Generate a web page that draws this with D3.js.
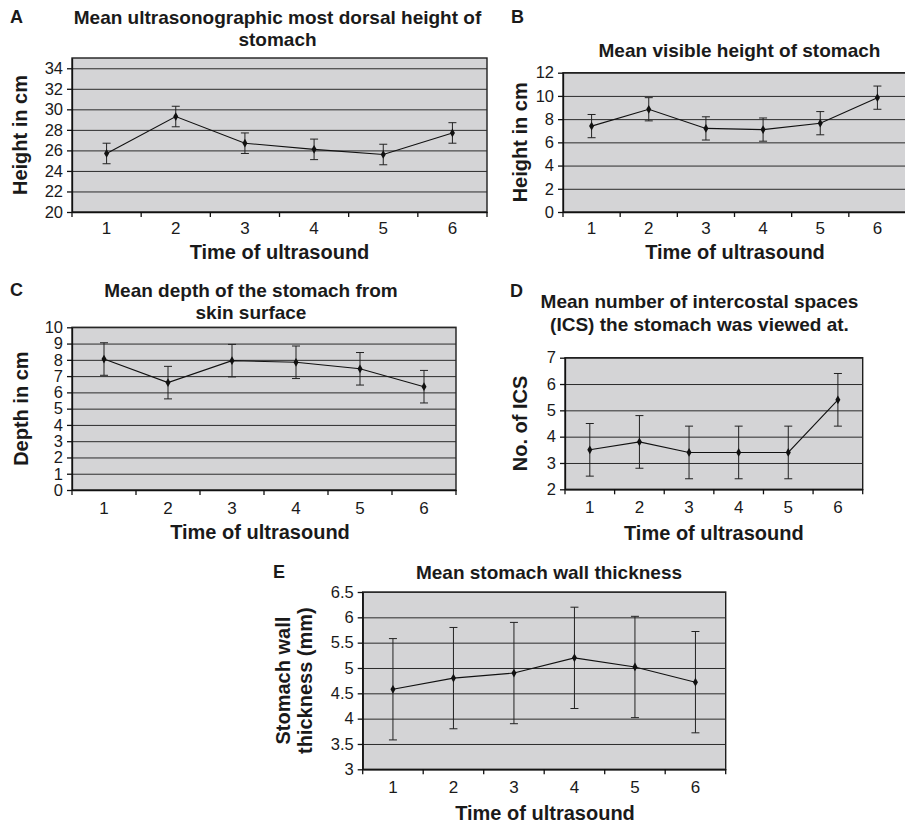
<!DOCTYPE html>
<meta charset="UTF-8">
<head>
<title>Stomach ultrasound</title>
<style>
body { margin: 0; background: #fff; }
svg { display: block; font-family: "Liberation Sans", Arial, sans-serif; }
.plotbg { fill: #d4d4d6; stroke: #1e1e1e; stroke-width: 1.4px; }
.grid line { stroke: #2b2b2b; stroke-width: 1px; }
.grid path { display: none; }
.axis path, .axis line { stroke: #111; stroke-width: 1.3px; }
.axis text { fill: #1a1a1a; font-family: "Liberation Sans", Arial, sans-serif; }
.yax text { font-size: 16.5px; }
.xax text { font-size: 17px; }
.err { stroke: #222; stroke-width: 1px; }
.series { fill: none; stroke: #111; stroke-width: 1.1px; }
.dot { fill: #111; }
.title { font-size: 19px; font-weight: bold; fill: #1a1a1a; }
.letter { font-size: 18px; font-weight: bold; fill: #1a1a1a; }
.axtitle { font-size: 20px; font-weight: bold; fill: #1a1a1a; }
</style>
</head>
<body>

<script src="https://d3js.org/d3.v7.min.js"></script>

<script>

// time of ultrasound (categories)
var times = ["1", "2", "3", "4", "5", "6"];

// A - most dorsal height
var dorsalMean = [25.7, 29.3, 26.7, 26.1, 25.6, 27.7];
var dorsalErr  = [1, 1, 1, 1, 1, 1];
var dorsalTicks = [20, 22, 24, 26, 28, 30, 32, 34];

// B - visible height
var visibleMean = [7.4, 8.85, 7.2, 7.1, 7.65, 9.85];
var visibleErr  = [1, 1, 1, 1, 1, 1];
var visibleTicks = [0, 2, 4, 6, 8, 10, 12];

// C - depth from skin surface
var depthMean = [8.05, 6.6, 7.95, 7.85, 7.45, 6.35];
var depthErr  = [1, 1, 1, 1, 1, 1];
var depthTicks = [0, 1, 2, 3, 4, 5, 6, 7, 8, 9, 10];

// D - number of intercostal spaces
var icsMean = [3.5, 3.8, 3.4, 3.4, 3.4, 5.4];
var icsErr  = [1, 1, 1, 1, 1, 1];
var icsTicks = [2, 3, 4, 5, 6, 7];

// E - wall thickness
var wallMean = [4.58, 4.8, 4.9, 5.2, 5.02, 4.72];
var wallErr  = [1, 1, 1, 1, 1, 1];
var wallTicks = [3, 3.5, 4, 4.5, 5, 5.5, 6, 6.5];

var svg = d3.select("body").append("svg")
    .attr("width", 905)
    .attr("height", 826);

function panel(o) {
  var g = svg.append("g");

  var x = d3.scaleBand().domain(times).range([o.left, o.right]);
  var y = d3.scaleLinear().domain(o.domain).range([o.bottom, o.top]);
  var cx = function(d) { return x(d) + x.bandwidth() / 2; };

  g.append("rect")
      .attr("class", "plotbg")
      .attr("x", o.left).attr("y", o.top)
      .attr("width", o.right - o.left)
      .attr("height", o.bottom - o.top);

  g.append("g")
      .attr("class", "grid")
      .attr("transform", "translate(" + o.left + ",0)")
      .call(d3.axisLeft(y).tickValues(o.ticks).tickSize(-(o.right - o.left)).tickFormat(""));

  // y axis
  g.append("g")
      .attr("class", "axis yax")
      .attr("transform", "translate(" + o.left + ",0)")
      .call(d3.axisLeft(y).tickValues(o.ticks).tickFormat(d3.format("")).tickSize(5).tickPadding(4).tickSizeOuter(0))
      .attr("font-size", null).attr("font-family", null);

  // x axis: labels centred in categories, tick marks between them
  var xa = g.append("g")
      .attr("class", "axis xax")
      .attr("transform", "translate(0," + o.bottom + ")")
      .call(d3.axisBottom(x).tickSize(0).tickPadding(o.xpad).tickSizeOuter(0))
      .attr("font-size", null).attr("font-family", null);
  var edges = d3.range(times.length + 1).map(function(i) { return x.range()[0] + i * x.step(); });
  xa.selectAll("line.sep")
    .data(edges)
    .enter().append("line")
      .attr("class", "sep")
      .attr("x1", function(d) { return d; }).attr("x2", function(d) { return d; })
      .attr("y1", 0).attr("y2", 5);

  // error bars
  var eb = g.selectAll("g.eb")
    .data(times)
    .enter().append("g")
      .attr("class", "eb");
  eb.append("line").attr("class", "err")
      .attr("x1", cx).attr("x2", cx)
      .attr("y1", function(d, i) { return y(o.mean[i] + o.err[i]); })
      .attr("y2", function(d, i) { return y(o.mean[i] - o.err[i]); });
  [1, -1].forEach(function(s) {
    eb.append("line").attr("class", "err")
        .attr("x1", function(d) { return cx(d) - 4; })
        .attr("x2", function(d) { return cx(d) + 4; })
        .attr("y1", function(d, i) { return y(o.mean[i] + s * o.err[i]); })
        .attr("y2", function(d, i) { return y(o.mean[i] + s * o.err[i]); });
  });

  var line = d3.line()
      .x(function(d) { return cx(d.t); })
      .y(function(d) { return y(d.v); });
  var pts = times.map(function(t, i) { return {t: t, v: o.mean[i]}; });

  g.append("path")
      .attr("class", "series")
      .attr("d", line(pts));

  g.selectAll("path.dot")
    .data(pts)
    .enter().append("path")
      .attr("class", "dot")
      .attr("d", d3.symbol().type(d3.symbolDiamond).size(22))
      .attr("transform", function(d) { return "translate(" + cx(d.t) + "," + y(d.v) + ")"; });

  // titles
  g.append("text").attr("class", "letter")
      .attr("x", o.letter[0]).attr("y", o.letter[1])
      .text(o.name);

  o.title.forEach(function(t, i) {
    g.append("text").attr("class", "title")
        .attr("text-anchor", "middle")
        .attr("x", o.titleX).attr("y", o.titleY + i * 22.5)
        .text(t);
  });

  g.append("text").attr("class", "axtitle")
      .attr("text-anchor", "middle")
      .attr("x", (o.xtX || (o.left + o.right) / 2)).attr("y", o.xtY)
      .text("Time of ultrasound");

  var ymid = (o.top + o.bottom) / 2;
  o.ytitle.forEach(function(t, i) {
    var tx = o.ytX + i * 22;
    g.append("text").attr("class", "axtitle")
        .attr("text-anchor", "middle")
        .attr("transform", "translate(" + tx + "," + ymid + ") rotate(-90)")
        .text(t);
  });
}

panel({
  name: "A", letter: [10, 23],
  left: 72, right: 487, top: 58, bottom: 212,
  domain: [20, 35], ticks: dorsalTicks, mean: dorsalMean, err: dorsalErr,
  title: ["Mean ultrasonographic most dorsal height of", "stomach"], titleX: 277.5, titleY: 23.5,
  ytitle: ["Height in cm"], ytX: 27, xpad: 10, xtY: 259
});

panel({
  name: "B", letter: [511, 23],
  left: 563, right: 906, top: 72.7, bottom: 212,
  domain: [0, 12], ticks: visibleTicks, mean: visibleMean, err: visibleErr,
  title: ["Mean visible height of stomach"], titleX: 739.5, titleY: 57,
  ytitle: ["Height in cm"], ytX: 527, xpad: 10, xtX: 735, xtY: 259
});

panel({
  name: "C", letter: [10, 296],
  left: 72, right: 456, top: 327.3, bottom: 490,
  domain: [0, 10], ticks: depthTicks, mean: depthMean, err: depthErr,
  title: ["Mean depth of the stomach from", "skin surface"], titleX: 251, titleY: 296.5,
  ytitle: ["Depth in cm"], ytX: 28, xpad: 12, xtX: 260, xtY: 538.5
});

panel({
  name: "D", letter: [510, 296.5],
  left: 565, right: 862.7, top: 357.7, bottom: 489.3,
  domain: [2, 7], ticks: icsTicks, mean: icsMean, err: icsErr,
  title: ["Mean number of intercostal spaces", "(ICS) the stomach was viewed at."], titleX: 699.5, titleY: 308,
  ytitle: ["No. of ICS"], ytX: 527, xpad: 12, xtY: 539.5
});

panel({
  name: "E", letter: [273, 578],
  left: 362.7, right: 725.7, top: 592, bottom: 769.3,
  domain: [3, 6.5], ticks: wallTicks, mean: wallMean, err: wallErr,
  title: ["Mean stomach wall thickness"], titleX: 549, titleY: 578.5,
  ytitle: ["Stomach wall", "thickness (mm)"], ytX: 290, xpad: 12, xtX: 545, xtY: 820
});

</script>
</body>
</html>
